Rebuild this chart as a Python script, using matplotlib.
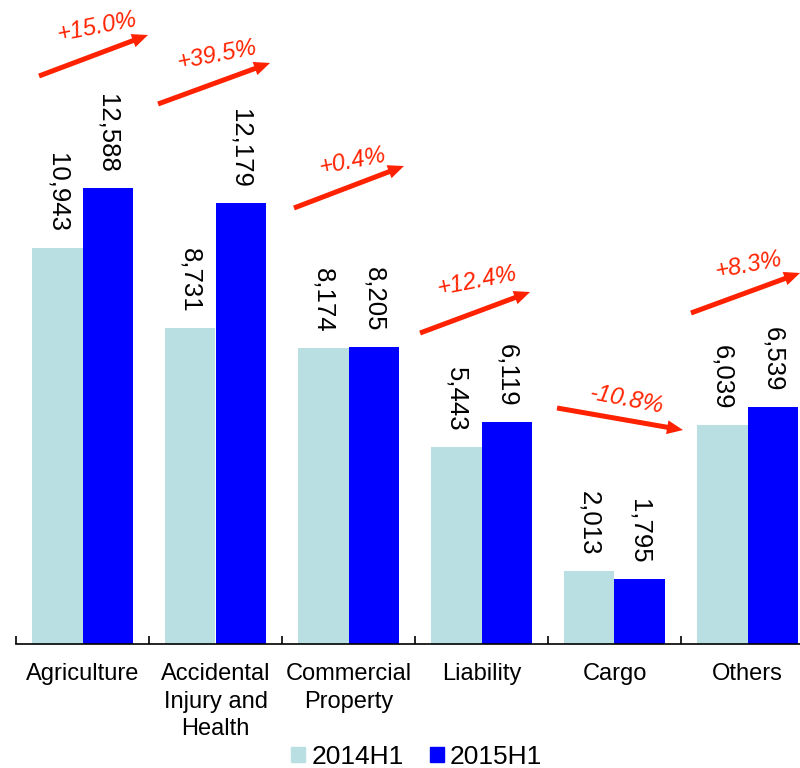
import matplotlib.pyplot as plt
from matplotlib.patches import Patch

plt.rcParams['font.family'] = ['Liberation Sans', 'DejaVu Sans']

categories = ['Agriculture', 'Accidental\nInjury and\nHealth', 'Commercial\nProperty',
              'Liability', 'Cargo', 'Others']
h1_2014 = [10943, 8731, 8174, 5443, 2013, 6039]
h1_2015 = [12588, 12179, 8205, 6119, 1795, 6539]

light = '#B9DFE2'
dark = '#0000FF'
red = '#FF2200'

# arrow start / end and label centre (data coords)
arrow_start = [(-0.327, 15680), (0.568, 14907), (1.59, 12036), (2.538, 8585), (3.568, 6515), (4.575, 9137)]
arrow_end = [(0.4925, 16812), (1.41, 16039), (2.417, 13195), (3.365, 9717), (4.515, 5907), (5.395, 10242)]
label_pos = [(0.109, 17033), (1.011, 16260), (2.026, 13333), (2.966, 10021), (4.094, 6736), (5.004, 10462)]

fig = plt.figure(figsize=(8, 7.68), dpi=100)
ax = fig.add_axes([0.02, 0.16146, 0.9975, 0.83854])

x = list(range(len(categories)))
w = 0.383
b1 = ax.bar([i - w / 2 for i in x], h1_2014, width=w, color=light, label='2014H1')
b2 = ax.bar([i + w / 2 for i in x], h1_2015, width=w, color=dark, label='2015H1')

for bars, vals in ((b1, h1_2014), (b2, h1_2015)):
    for r, v in zip(bars, vals):
        ax.annotate(f'{v:,}', (r.get_x() + r.get_width() / 2, r.get_height()),
                    xytext=(0, 11), textcoords='offset points', rotation=270,
                    ha='center', va='bottom', fontsize=18.5)

for i in x:
    growth = (h1_2015[i] / h1_2014[i] - 1) * 100
    ax.annotate('', xy=arrow_end[i], xytext=arrow_start[i], annotation_clip=False,
                arrowprops=dict(arrowstyle='simple,head_length=1.15,head_width=1.0,tail_width=0.36',
                                mutation_scale=10, color=red, lw=0, shrinkA=0, shrinkB=0))
    ax.text(label_pos[i][0], label_pos[i][1], f'{growth:+.1f}%', color=red, fontsize=17,
            style='italic', ha='center', va='center', rotation=11 if growth > 0 else -11)

ax.set_xlim(-0.5, 5.5)
ax.set_ylim(0, 17778)
ax.set_xticks(x)
ax.set_xticklabels(categories, fontsize=17, linespacing=1.3)
ax.set_xticks([i - 0.5 for i in range(len(categories) + 1)], minor=True)
ax.tick_params(axis='x', which='major', length=0, pad=14)
ax.tick_params(axis='x', which='minor', direction='in', length=6, width=1.2)
ax.set_yticks([])
for s in ['top', 'right', 'left']:
    ax.spines[s].set_visible(False)
ax.spines['bottom'].set_linewidth(1.2)

handles = [Patch(color=light), Patch(color=dark)]
fig.legend(handles, ['2014H1', '2015H1'], loc='center', bbox_to_anchor=(0.521, 0.0143),
           ncol=2, frameon=False, fontsize=19, handlelength=0.53, handleheight=0.53,
           handletextpad=0.23, columnspacing=1.0)

fig.savefig('out.png', dpi=100)
